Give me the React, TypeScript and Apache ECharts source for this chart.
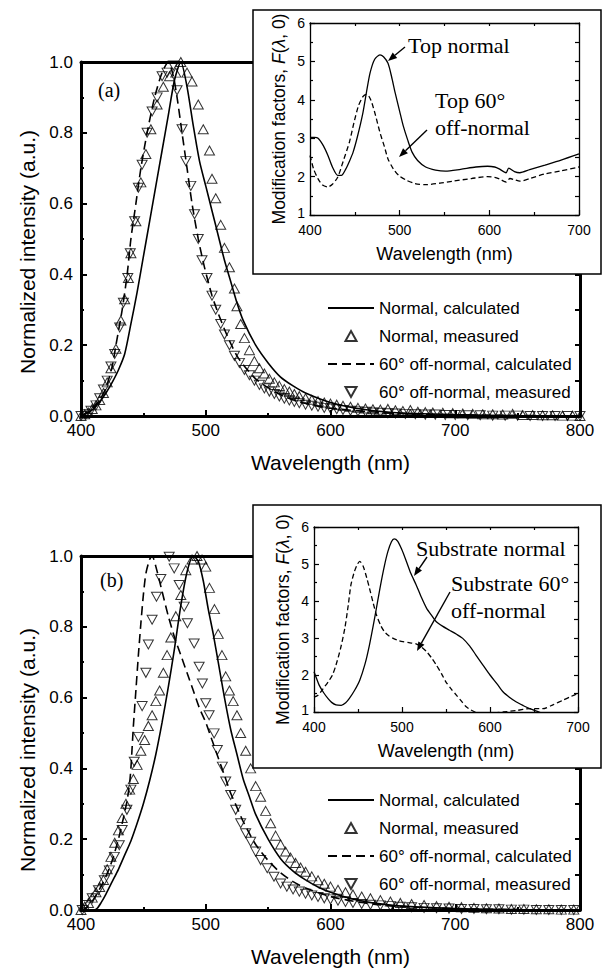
import React, { useEffect, useRef } from 'react';
import * as echarts from 'echarts';

const FONT = '"Liberation Sans", Arial, Helvetica, sans-serif';
const SERIF = '"Liberation Serif", "Times New Roman", serif';

const LEGEND_NAMES = [
  'Normal, calculated',
  'Normal, measured',
  '60° off-normal, calculated',
  '60° off-normal, measured',
];

// ---------- Panel (a): main ----------
const aNormalCalc = [
  [400, 0], [405, 0.008], [410, 0.02], [415, 0.04], [420, 0.065], [425, 0.095], [430, 0.13], [435, 0.175],
  [440, 0.26], [445, 0.35], [450, 0.45], [455, 0.55], [460, 0.65], [465, 0.75], [470, 0.85], [475, 0.95],
  [480, 1.0], [485, 0.93], [490, 0.82], [495, 0.72], [500, 0.65], [505, 0.58], [510, 0.51], [515, 0.44],
  [520, 0.38], [525, 0.32], [530, 0.27], [540, 0.2], [550, 0.15], [560, 0.11], [570, 0.085], [580, 0.065],
  [600, 0.038], [620, 0.022], [650, 0.01], [700, 0.004], [750, 0.001], [800, 0],
];
const aNormalMeas = [
  [400, 0], [403, 0.005], [406, 0.01], [409, 0.02], [412, 0.03], [415, 0.045], [418, 0.065], [421, 0.095],
  [424, 0.135], [428, 0.19], [432, 0.27], [435, 0.33], [438, 0.39], [440, 0.46], [444, 0.55], [448, 0.66],
  [452, 0.74], [456, 0.81], [461, 0.88], [466, 0.93], [471, 0.96], [476, 0.97], [480, 1.0], [485, 0.97],
  [489, 0.945], [494, 0.88], [498, 0.81], [503, 0.75], [505, 0.67], [508, 0.615], [512, 0.54], [515, 0.475],
  [519, 0.42], [523, 0.36], [525, 0.31], [528, 0.26], [531, 0.22], [535, 0.186], [539, 0.155], [543, 0.135],
  [547, 0.12], [551, 0.105], [555, 0.095], [559, 0.085], [563, 0.076], [567, 0.069], [571, 0.062], [575, 0.056],
  [580, 0.05], [585, 0.046], [590, 0.042], [595, 0.038], [600, 0.035], [605, 0.032], [610, 0.029], [616, 0.026],
  [622, 0.023], [628, 0.021], [634, 0.019], [640, 0.018], [646, 0.02], [652, 0.016], [658, 0.014], [664, 0.017],
  [670, 0.012], [676, 0.011], [682, 0.01], [690, 0.009], [698, 0.008], [706, 0.007], [714, 0.006], [722, 0.005],
  [730, 0.005], [738, 0.004], [746, 0.006], [754, 0.003], [762, 0.003], [770, 0.002], [778, 0.002], [786, 0.001],
  [794, 0.001], [800, 0],
];
const a60Calc = [
  [400, 0], [405, 0.01], [410, 0.025], [415, 0.045], [420, 0.08], [425, 0.14], [428, 0.2], [433, 0.3],
  [437, 0.4], [440, 0.5], [444, 0.6], [448, 0.7], [453, 0.8], [459, 0.9], [465, 0.97], [470, 1.0],
  [474, 0.96], [477, 0.9], [481, 0.8], [485, 0.7], [489, 0.6], [494, 0.5], [499, 0.42], [505, 0.34],
  [510, 0.29], [515, 0.245], [520, 0.205], [525, 0.17], [530, 0.145], [540, 0.105], [550, 0.08], [560, 0.06],
  [575, 0.04], [600, 0.022], [650, 0.008], [700, 0.003], [800, 0],
];
const a60Meas = [
  [400, 0], [404, 0.005], [408, 0.015], [412, 0.03], [415, 0.05], [418, 0.075], [421, 0.1], [424, 0.14],
  [427, 0.175], [431, 0.25], [434, 0.32], [437.5, 0.39], [439.5, 0.46], [443, 0.55], [446, 0.645], [449, 0.71],
  [453, 0.8], [457, 0.86], [461, 0.9], [465, 0.96], [469, 0.97], [474, 0.99], [477, 0.92], [481, 0.81],
  [484, 0.72], [488, 0.65], [491, 0.57], [494, 0.5], [497, 0.44], [501, 0.39], [505, 0.34], [508, 0.3],
  [512, 0.26], [515, 0.23], [519, 0.2], [523, 0.17], [527, 0.15], [531, 0.13], [535, 0.115], [539, 0.1],
  [543, 0.088], [547, 0.078], [551, 0.069], [555, 0.062], [559, 0.055], [563, 0.049], [567, 0.044], [571, 0.04],
  [575, 0.036], [580, 0.032], [585, 0.029], [590, 0.026], [595, 0.023], [600, 0.021], [605, 0.019], [610, 0.017],
  [616, 0.015], [622, 0.013], [628, 0.012], [634, 0.01], [640, 0.009], [646, 0.008], [652, 0.007], [660, 0.006],
  [668, 0.005], [676, 0.004], [684, 0.004], [692, 0.003], [700, 0.003], [710, 0.002], [720, 0.002], [730, 0.001],
  [740, 0.001], [750, 0.001], [760, 0], [770, 0], [780, 0], [790, 0], [800, 0],
];

// ---------- Panel (a): inset ----------
const aTopNormal = [
  [400, 3.02], [405, 3.02], [409, 3.0], [415, 2.8], [420, 2.55], [425, 2.25], [431, 2.03], [435, 2.03],
  [440, 2.2], [444, 2.4], [448, 2.63], [453, 3.05], [459, 3.66], [463, 4.2], [467, 4.7], [472, 5.05],
  [478, 5.17], [482, 5.12], [487, 4.95], [491, 4.6], [495, 4.18], [500, 3.7], [504, 3.32], [509, 2.95],
  [514, 2.63], [520, 2.42], [529, 2.25], [540, 2.17], [551, 2.14], [568, 2.19], [585, 2.25], [598, 2.27],
  [606, 2.25], [611, 2.2], [618.6, 2.1], [621.6, 2.22], [628, 2.13], [634, 2.1], [645, 2.18], [662, 2.3],
  [680, 2.43], [700, 2.59],
];
const aTop60 = [
  [400, 2.55], [404, 2.2], [409, 1.94], [414, 1.78], [420, 1.73], [425, 1.8], [431, 1.99], [437, 2.4],
  [444, 2.9], [449, 3.4], [454, 3.84], [459, 4.08], [463, 4.14], [466, 4.08], [469, 3.92], [473, 3.6],
  [478, 3.15], [483, 2.78], [487, 2.46], [493, 2.2], [499, 2.03], [508, 1.9], [517, 1.82], [529, 1.79],
  [545, 1.83], [559, 1.88], [580, 1.95], [598, 2.0], [606, 1.98], [612, 1.93], [618.6, 1.86], [623, 1.95],
  [628, 1.92], [634, 1.88], [645, 1.95], [662, 2.07], [680, 2.15], [700, 2.25],
];

// ---------- Panel (b): main ----------
const bNormalCalc = [
  [400, 0], [405, 0], [410, 0], [413, 0.005], [416, 0.02], [420, 0.045], [425, 0.08], [430, 0.115],
  [435, 0.155], [440, 0.195], [445, 0.245], [450, 0.3], [455, 0.365], [460, 0.44], [465, 0.53], [470, 0.63],
  [475, 0.74], [480, 0.86], [485, 0.955], [490, 1.0], [494, 0.985], [498, 0.93], [502, 0.85], [506, 0.78],
  [510, 0.7], [515, 0.6], [520, 0.51], [525, 0.44], [530, 0.37], [535, 0.32], [540, 0.27], [550, 0.2],
  [560, 0.145], [570, 0.11], [580, 0.085], [590, 0.065], [600, 0.05], [620, 0.029], [650, 0.013], [700, 0.004],
  [750, 0.001], [800, 0],
];
const bNormalMeas = [
  [400, 0], [403, 0.01], [406, 0.02], [409, 0.035], [412, 0.05], [415, 0.065], [418, 0.085], [421, 0.115],
  [424, 0.15], [427, 0.19], [430, 0.225], [433, 0.26], [436, 0.3], [439, 0.34], [442, 0.37], [445, 0.41],
  [448, 0.45], [451, 0.48], [454, 0.52], [457, 0.55], [460, 0.59], [463, 0.62], [466, 0.67], [469, 0.72],
  [472, 0.77], [476, 0.83], [480, 0.89], [484, 0.96], [489, 0.99], [493, 1.0], [497, 0.99], [500, 0.97],
  [503, 0.91], [507, 0.85], [510, 0.78], [513, 0.72], [516, 0.66], [519, 0.62], [522, 0.59], [525, 0.55],
  [528, 0.5], [532, 0.45], [536, 0.4], [540, 0.35], [544, 0.32], [548, 0.28], [552, 0.245], [556, 0.21],
  [560, 0.185], [564, 0.165], [568, 0.148], [572, 0.133], [576, 0.12], [580, 0.108], [585, 0.095], [590, 0.084],
  [595, 0.074], [600, 0.066], [606, 0.057], [612, 0.05], [618, 0.044], [625, 0.038], [632, 0.033], [640, 0.028],
  [648, 0.024], [656, 0.02], [665, 0.017], [675, 0.014], [685, 0.011], [695, 0.009], [705, 0.008], [715, 0.006],
  [725, 0.005], [735, 0.004], [745, 0.003], [755, 0.003], [765, 0.002], [775, 0.002], [785, 0.001], [795, 0.001],
];
const b60Calc = [
  [400, 0], [404, 0.005], [410, 0.03], [415, 0.06], [420, 0.095], [425, 0.14], [430, 0.2], [434, 0.26],
  [437, 0.31], [439, 0.36], [440, 0.4], [441, 0.46], [442, 0.52], [444, 0.62], [446, 0.72], [448, 0.81],
  [450, 0.89], [452, 0.95], [455, 0.99], [457, 1.0], [460, 0.97], [465, 0.9], [470, 0.83], [475, 0.77],
  [480, 0.72], [485, 0.67], [490, 0.62], [495, 0.57], [500, 0.53], [505, 0.48], [510, 0.43], [515, 0.38],
  [520, 0.33], [525, 0.29], [530, 0.25], [540, 0.185], [550, 0.14], [560, 0.105], [570, 0.08], [580, 0.062],
  [600, 0.038], [625, 0.021], [650, 0.011], [700, 0.004], [750, 0.001], [800, 0],
];
const b60Meas = [
  [401, 0], [404, 0.014], [409, 0.033], [414, 0.056], [418.7, 0.084], [422.7, 0.112], [426.7, 0.15], [430.7, 0.183],
  [433, 0.226], [436.8, 0.283], [440, 0.34], [442.7, 0.419], [446, 0.489], [449, 0.576], [452, 0.67], [454, 0.75],
  [457, 0.82], [460.5, 0.885], [464, 0.935], [470.7, 0.998], [474.7, 0.965], [478.7, 0.918], [482.7, 0.857], [485.3, 0.81],
  [490.7, 0.753], [494.7, 0.687], [497.3, 0.64], [500, 0.584], [502.7, 0.55], [506.7, 0.499], [509.3, 0.452], [513.3, 0.405],
  [516, 0.363], [520, 0.325], [524, 0.283], [528, 0.245], [532, 0.217], [536, 0.193], [540, 0.165], [544, 0.141],
  [549.3, 0.118], [554.7, 0.094], [560, 0.075], [565, 0.066], [570, 0.058], [575, 0.052], [580, 0.046], [585, 0.041],
  [590, 0.037], [595, 0.033], [600, 0.03], [606, 0.026], [612, 0.023], [618, 0.02], [625, 0.017], [632, 0.015],
  [640, 0.013], [648, 0.011], [656, 0.009], [665, 0.008], [675, 0.006], [685, 0.005], [695, 0.004], [705, 0.003],
  [715, 0.003], [725, 0.002], [735, 0.002], [745, 0.001], [755, 0.001], [765, 0], [775, 0], [785, 0], [795, 0],
];

// ---------- Panel (b): inset ----------
const bSubNormal = [
  [400, 2.09], [403, 1.9], [406, 1.72], [411, 1.52], [416, 1.36], [420, 1.26], [425, 1.19], [431, 1.18],
  [436, 1.25], [440, 1.36], [446, 1.58], [452, 1.86], [458, 2.3], [463, 2.81], [469, 3.55], [475, 4.35],
  [480, 4.95], [484, 5.34], [488, 5.6], [491, 5.68], [495, 5.62], [500, 5.38], [505, 5.07], [510, 4.75],
  [516, 4.44], [522, 4.1], [528, 3.8], [534, 3.6], [539, 3.44], [546, 3.32], [554, 3.21], [562, 3.1],
  [569, 2.99], [577, 2.78], [584, 2.54], [592, 2.27], [600, 2.0], [608, 1.76], [615, 1.54], [622, 1.4],
  [630, 1.27], [638, 1.17], [645, 1.09], [652, 1.03], [660, 0.96], [680, 0.82], [700, 0.7],
];
const bSub60 = [
  [400, 1.4], [404.5, 1.45], [410, 1.62], [416, 1.81], [421, 2.0], [425, 2.27], [430, 2.7], [435, 3.26],
  [439, 3.9], [442, 4.44], [446, 4.8], [449, 4.98], [452, 5.07], [456, 4.93], [460, 4.62], [463, 4.35],
  [467, 3.97], [471, 3.62], [476, 3.33], [480, 3.17], [485, 3.06], [490, 2.99], [496, 2.93], [501, 2.9],
  [509, 2.87], [516, 2.84], [522, 2.76], [528, 2.63], [534, 2.45], [539, 2.27], [545, 2.03], [550, 1.81],
  [556, 1.62], [562, 1.45], [568, 1.28], [573, 1.14], [578, 1.06], [583, 1.0], [591, 0.97], [600, 0.96],
  [608, 0.98], [615, 1.0], [630, 1.04], [645, 1.09], [660, 1.09], [672, 1.2], [683, 1.32], [692, 1.42],
  [700, 1.5],
];

const UP_TRI = 'path://M5,0L10,9L0,9Z';
const DOWN_TRI = 'path://M0,0L10,0L5,9Z';

function mainBottom(g: number) {
  return {
    type: 'value', gridIndex: g, position: 'bottom', min: 400, max: 800, interval: 100,
    axisLine: { show: true, onZero: false, lineStyle: { color: '#000', width: 3 } },
    axisTick: { show: true, inside: true, length: 6, lineStyle: { color: '#000', width: 2 } },
    minorTick: { show: true, splitNumber: 2, length: 3, lineStyle: { color: '#000', width: 2 } },
    splitLine: { show: false }, minorSplitLine: { show: false },
    axisLabel: { color: '#000', fontSize: 17, fontFamily: FONT, margin: 6 },
    name: 'Wavelength (nm)', nameLocation: 'middle', nameGap: 36,
    nameTextStyle: { color: '#000', fontSize: 21, fontFamily: FONT },
  };
}
function mainTop(g: number) {
  return {
    type: 'value', gridIndex: g, position: 'top', min: 400, max: 800, interval: 100,
    axisLine: { show: true, onZero: false, lineStyle: { color: '#000', width: 3 } },
    axisTick: { show: false }, axisLabel: { show: false }, splitLine: { show: false },
  };
}
function mainLeft(g: number) {
  return {
    type: 'value', gridIndex: g, position: 'left', min: 0, max: 1, interval: 0.2,
    axisLine: { show: true, onZero: false, lineStyle: { color: '#000', width: 3 } },
    axisTick: { show: true, inside: true, length: 6, lineStyle: { color: '#000', width: 2 } },
    minorTick: { show: true, splitNumber: 2, length: 3, lineStyle: { color: '#000', width: 2 } },
    splitLine: { show: false }, minorSplitLine: { show: false },
    axisLabel: { color: '#000', fontSize: 17, fontFamily: FONT, margin: 8, formatter: (v: number) => v.toFixed(1) },
  };
}
function mainRight(g: number) {
  return {
    type: 'value', gridIndex: g, position: 'right', min: 0, max: 1, interval: 0.1,
    axisLine: { show: true, onZero: false, lineStyle: { color: '#000', width: 3 } },
    axisTick: { show: true, inside: true, length: 5, lineStyle: { color: '#000', width: 2 } },
    axisLabel: { show: false }, splitLine: { show: false },
  };
}
function insetBottom(g: number) {
  return {
    type: 'value', gridIndex: g, position: 'bottom', min: 400, max: 700, interval: 100, z: 20,
    axisLine: { show: true, onZero: false, lineStyle: { color: '#000', width: 1.3 } },
    axisTick: { show: true, inside: true, length: 5, lineStyle: { color: '#000', width: 1.2 } },
    minorTick: { show: true, splitNumber: 2, length: 3, lineStyle: { color: '#000', width: 1.2 } },
    splitLine: { show: false }, minorSplitLine: { show: false },
    axisLabel: { color: '#000', fontSize: 14, fontFamily: FONT, margin: 8 },
    name: 'Wavelength (nm)', nameLocation: 'middle', nameGap: 30,
    nameTextStyle: { color: '#000', fontSize: 18, fontFamily: FONT },
  };
}
function insetTop(g: number) {
  return {
    type: 'value', gridIndex: g, position: 'top', min: 400, max: 700, interval: 50, z: 20,
    axisLine: { show: true, onZero: false, lineStyle: { color: '#000', width: 1.3 } },
    axisTick: { show: true, inside: true, length: 3, lineStyle: { color: '#000', width: 1.2 } },
    axisLabel: { show: false }, splitLine: { show: false },
  };
}
function insetLeft(g: number) {
  return {
    type: 'value', gridIndex: g, position: 'left', min: 1, max: 6, interval: 1, z: 20,
    axisLine: { show: true, onZero: false, lineStyle: { color: '#000', width: 1.3 } },
    axisTick: { show: true, inside: true, length: 5, lineStyle: { color: '#000', width: 1.2 } },
    minorTick: { show: true, splitNumber: 2, length: 3, lineStyle: { color: '#000', width: 1.2 } },
    splitLine: { show: false }, minorSplitLine: { show: false },
    axisLabel: {
      color: '#000', fontSize: 14, fontFamily: FONT, margin: 5,
      formatter: (v: number) => (v === 1 ? '{lo|1}' : String(v)),
      rich: { lo: { fontSize: 14, fontFamily: FONT, color: '#000', padding: [0, 0, 4, 0] } },
    },
    name: 'Modification factors, {i|F}({i|λ}, 0)', nameLocation: 'middle', nameGap: 22,
    nameTextStyle: {
      color: '#000', fontSize: 17.5, fontFamily: FONT,
      rich: { i: { fontStyle: 'italic', fontSize: 17.5, fontFamily: FONT, color: '#000' } },
    },
  };
}
function insetRight(g: number) {
  return {
    type: 'value', gridIndex: g, position: 'right', min: 1, max: 6, interval: 0.5, z: 20,
    axisLine: { show: true, onZero: false, lineStyle: { color: '#000', width: 1.3 } },
    axisTick: { show: true, inside: true, length: 4, lineStyle: { color: '#000', width: 1.2 } },
    axisLabel: { show: false }, splitLine: { show: false },
  };
}

function lineSeries(name: string, data: number[][], ai: number, dash: any, width: number, z: number) {
  return {
    name, type: 'line', data, xAxisIndex: ai, yAxisIndex: ai, symbol: 'none', smooth: 0.25, z,
    lineStyle: { color: '#000', width, type: dash },
    itemStyle: { color: 'rgba(0,0,0,0)', borderWidth: 0 },
  };
}
function scatterSeries(name: string, data: number[][], ai: number, symbol: string) {
  return {
    name, type: 'scatter', data, xAxisIndex: ai, yAxisIndex: ai, symbol, symbolSize: [10, 9], z: 3,
    itemStyle: { color: 'rgba(0,0,0,0)', borderColor: '#000', borderWidth: 1 },
  };
}

function arrow(x1: number, y1: number, x2: number, y2: number) {
  const dx = x2 - x1, dy = y2 - y1;
  const len = Math.hypot(dx, dy);
  const ux = dx / len, uy = dy / len;
  const hl = 9, hw = 3.5;
  const bx = x2 - ux * hl, by = y2 - uy * hl;
  const px = -uy, py = ux;
  return [
    { type: 'line', z: 30, shape: { x1, y1, x2: bx, y2: by }, style: { stroke: '#000', lineWidth: 1.4 } },
    {
      type: 'polygon', z: 30,
      shape: { points: [[x2, y2], [bx + px * hw, by + py * hw], [bx - px * hw, by - py * hw]] },
      style: { fill: '#000' },
    },
  ];
}
function label(text: string, x: number, y: number, font: string) {
  return {
    type: 'text', z: 30, x, y,
    style: { text, font, fill: '#000', align: 'left', verticalAlign: 'middle' },
  };
}
function yTitle(y: number) {
  return {
    type: 'text', z: 30, x: 27, y, rotation: Math.PI / 2,
    style: { text: 'Normalized intensity (a.u.)', font: `21px ${FONT}`, fill: '#000', align: 'center', verticalAlign: 'middle' },
  };
}

export default function App() {
  const ref = useRef<HTMLDivElement>(null);
  useEffect(() => {
    document.body.style.margin = '0';
    if (!ref.current) return;
    const chart = echarts.init(ref.current, undefined, { renderer: 'svg' });
    const legendBase = {
      show: true, orient: 'vertical', left: 327, itemWidth: 46, itemHeight: 10, itemGap: 10,
      padding: 0, selectedMode: false, data: LEGEND_NAMES,
      textStyle: { color: '#000', fontSize: 17, fontFamily: FONT, lineHeight: 18 },
    };
    const option: any = {
      animation: false,
      backgroundColor: '#fff',
      grid: [
        { left: 81, top: 62, width: 499, height: 354 },
        { left: 310, top: 23, width: 269, height: 192 },
        { left: 81, top: 556, width: 499, height: 354 },
        { left: 314, top: 527, width: 264, height: 185 },
      ],
      xAxis: [mainBottom(0), mainTop(0), insetBottom(1), insetTop(1), mainBottom(2), mainTop(2), insetBottom(3), insetTop(3)],
      yAxis: [mainLeft(0), mainRight(0), insetLeft(1), insetRight(1), mainLeft(2), mainRight(2), insetLeft(3), insetRight(3)],
      legend: [
        { ...legendBase, top: 299 },
        { ...legendBase, top: 791 },
      ],
      series: [
        lineSeries(LEGEND_NAMES[0], aNormalCalc, 0, 'solid', 1.6, 2),
        scatterSeries(LEGEND_NAMES[1], aNormalMeas, 0, UP_TRI),
        lineSeries(LEGEND_NAMES[2], a60Calc, 0, [9, 5], 1.6, 2),
        scatterSeries(LEGEND_NAMES[3], a60Meas, 0, DOWN_TRI),
        lineSeries('Top normal', aTopNormal, 2, 'solid', 1.3, 20),
        lineSeries('Top 60° off-normal', aTop60, 2, [5, 3], 1.3, 20),
        lineSeries(LEGEND_NAMES[0], bNormalCalc, 4, 'solid', 1.6, 2),
        scatterSeries(LEGEND_NAMES[1], bNormalMeas, 4, UP_TRI),
        lineSeries(LEGEND_NAMES[2], b60Calc, 4, [9, 5], 1.6, 2),
        scatterSeries(LEGEND_NAMES[3], b60Meas, 4, DOWN_TRI),
        lineSeries('Substrate normal', bSubNormal, 6, 'solid', 1.3, 20),
        lineSeries('Substrate 60° off-normal', bSub60, 6, [5, 3], 1.3, 20),
      ],
      graphic: {
        elements: [
          { type: 'rect', z: 10, shape: { x: 253, y: 10, width: 348, height: 264 }, style: { fill: '#fff', stroke: '#000', lineWidth: 1.5 } },
          { type: 'rect', z: 10, shape: { x: 253, y: 505, width: 348, height: 263 }, style: { fill: '#fff', stroke: '#000', lineWidth: 1.5 } },
          label('(a)', 98, 90, `20px ${SERIF}`),
          label('(b)', 100, 580, `20px ${SERIF}`),
          yTitle(252),
          yTitle(750),
          label('Top normal', 408, 45, `22px ${SERIF}`),
          label('Top 60°', 435, 100, `22px ${SERIF}`),
          label('off-normal', 435, 127, `22px ${SERIF}`),
          ...arrow(405, 47, 388, 61),
          ...arrow(427, 130, 399, 157),
          label('Substrate normal', 416, 548, `22px ${SERIF}`),
          label('Substrate 60°', 451, 583, `22px ${SERIF}`),
          label('off-normal', 451, 610, `22px ${SERIF}`),
          ...arrow(427, 557, 414, 576),
          ...arrow(450, 592, 417, 651),
        ],
      },
    };
    chart.setOption(option);
    return () => chart.dispose();
  }, []);
  return <div ref={ref} style={{ width: 603, height: 971 }} />;
}
